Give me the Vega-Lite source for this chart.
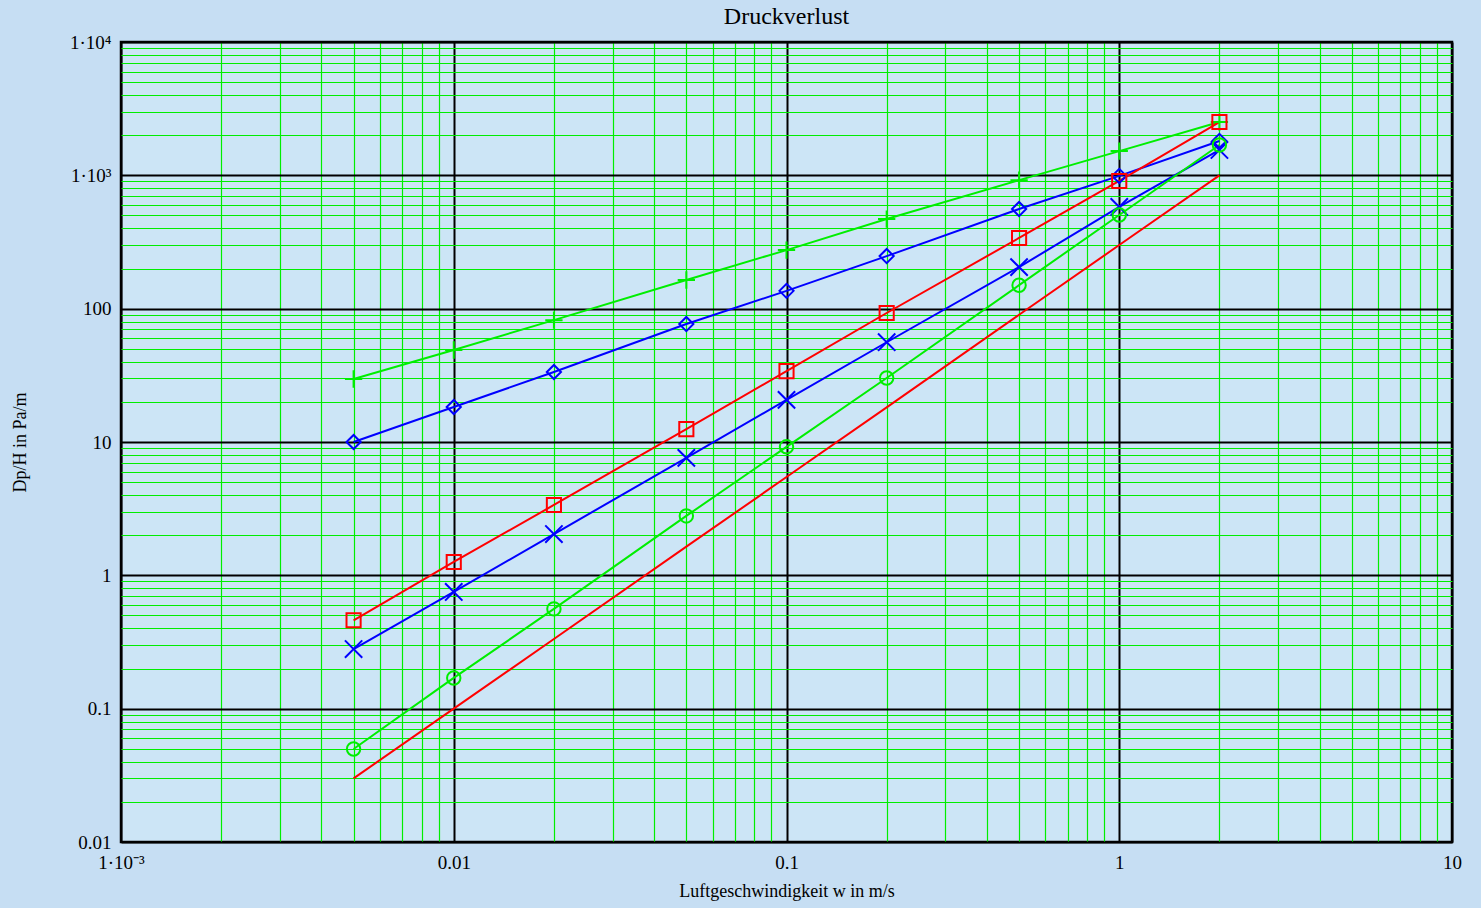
{
  "$schema": "https://vega.github.io/schema/vega-lite/v6.json",
  "width": 1331,
  "height": 800,
  "autosize": "none",
  "padding": {"left": 121, "top": 42, "right": 29, "bottom": 66},
  "background": "#c6def3",
  "config": {
    "view": {"stroke": "black", "strokeWidth": 2.5, "fill": "#cce5f6"},
    "font": "Liberation Serif"
  },
  "title": {
    "text": "Druckverlust",
    "font": "Liberation Serif",
    "fontSize": 24,
    "fontWeight": "normal",
    "color": "black",
    "offset": 4
  },
  "data": {
    "values": [
      {"w": 0.005, "dp": 29.7, "s": "a"},
      {"w": 0.01, "dp": 49, "s": "a"},
      {"w": 0.02, "dp": 82, "s": "a"},
      {"w": 0.05, "dp": 164, "s": "a"},
      {"w": 0.1, "dp": 275, "s": "a"},
      {"w": 0.2, "dp": 470, "s": "a"},
      {"w": 0.5, "dp": 920, "s": "a"},
      {"w": 1, "dp": 1520, "s": "a"},
      {"w": 2, "dp": 2510, "s": "a"},
      {"w": 0.005, "dp": 10, "s": "b"},
      {"w": 0.01, "dp": 18.3, "s": "b"},
      {"w": 0.02, "dp": 33.5, "s": "b"},
      {"w": 0.05, "dp": 76.7, "s": "b"},
      {"w": 0.1, "dp": 136, "s": "b"},
      {"w": 0.2, "dp": 248, "s": "b"},
      {"w": 0.5, "dp": 559, "s": "b"},
      {"w": 1, "dp": 990, "s": "b"},
      {"w": 2, "dp": 1810, "s": "b"},
      {"w": 0.005, "dp": 0.46, "s": "c"},
      {"w": 0.01, "dp": 1.26, "s": "c"},
      {"w": 0.02, "dp": 3.37, "s": "c"},
      {"w": 0.05, "dp": 12.5, "s": "c"},
      {"w": 0.1, "dp": 34, "s": "c"},
      {"w": 0.2, "dp": 92.8, "s": "c"},
      {"w": 0.5, "dp": 339, "s": "c"},
      {"w": 1, "dp": 907, "s": "c"},
      {"w": 2, "dp": 2510, "s": "c"},
      {"w": 0.005, "dp": 0.28, "s": "d"},
      {"w": 0.01, "dp": 0.75, "s": "d"},
      {"w": 0.02, "dp": 2.04, "s": "d"},
      {"w": 0.05, "dp": 7.6, "s": "d"},
      {"w": 0.1, "dp": 20.7, "s": "d"},
      {"w": 0.2, "dp": 56, "s": "d"},
      {"w": 0.5, "dp": 205, "s": "d"},
      {"w": 1, "dp": 579, "s": "d"},
      {"w": 2, "dp": 1549, "s": "d"},
      {"w": 0.005, "dp": 0.0498, "s": "e"},
      {"w": 0.01, "dp": 0.17, "s": "e"},
      {"w": 0.02, "dp": 0.56, "s": "e"},
      {"w": 0.05, "dp": 2.79, "s": "e"},
      {"w": 0.1, "dp": 9.2, "s": "e"},
      {"w": 0.2, "dp": 30.2, "s": "e"},
      {"w": 0.5, "dp": 150, "s": "e"},
      {"w": 1, "dp": 504, "s": "e"},
      {"w": 2, "dp": 1689, "s": "e"},
      {"w": 0.005, "dp": 0.03, "s": "f"},
      {"w": 0.01, "dp": 0.1, "s": "f"},
      {"w": 0.02, "dp": 0.333, "s": "f"},
      {"w": 0.05, "dp": 1.64, "s": "f"},
      {"w": 0.1, "dp": 5.46, "s": "f"},
      {"w": 0.2, "dp": 18.2, "s": "f"},
      {"w": 0.5, "dp": 90, "s": "f"},
      {"w": 1, "dp": 300, "s": "f"},
      {"w": 2, "dp": 1000, "s": "f"}
    ]
  },
  "encoding": {
    "x": {
      "field": "w",
      "type": "quantitative",
      "scale": {"type": "log", "domain": [0.001, 10], "nice": false},
      "axis": {
        "title": "Luftgeschwindigkeit w in m/s",
        "titleFont": "Liberation Serif",
        "titleFontSize": 18,
        "titleFontWeight": "normal",
        "titleColor": "black",
        "titlePadding": 10,
        "values": [0.001, 0.002, 0.003, 0.004, 0.005, 0.006, 0.007, 0.008, 0.009, 0.01, 0.02, 0.03, 0.04, 0.05, 0.06, 0.07, 0.08, 0.09, 0.1, 0.2, 0.3, 0.4, 0.5, 0.6, 0.7, 0.8, 0.9, 1, 2, 3, 4, 5, 6, 7, 8, 9, 10],
        "domain": false,
        "ticks": false,
        "grid": true,
        "gridColor": {"condition": {"test": "abs(log(datum.value)/LN10 - round(log(datum.value)/LN10)) < 0.000001", "value": "black"}, "value": "#00ee00"},
        "gridWidth": {"condition": {"test": "abs(log(datum.value)/LN10 - round(log(datum.value)/LN10)) < 0.000001", "value": 2}, "value": 1.2},
        "gridOpacity": 1,
        "labelExpr": "abs(datum.value - 0.001) < 0.0000001 ? '1·10⁻³' : (abs(log(datum.value)/LN10 - round(log(datum.value)/LN10)) < 0.000001 ? toString(datum.value) : '')",
        "labelFont": "Liberation Serif",
        "labelFontSize": 19,
        "labelColor": "black",
        "labelPadding": 11,
        "labelOverlap": false,
        "labelFlush": false,
        "labelBound": false
      }
    },
    "y": {
      "field": "dp",
      "type": "quantitative",
      "scale": {"type": "log", "domain": [0.01, 10000], "nice": false},
      "axis": {
        "title": "Dp/H in Pa/m",
        "titleFont": "Liberation Serif",
        "titleFontSize": 18,
        "titleFontWeight": "normal",
        "titleColor": "black",
        "titlePadding": 40,
        "values": [0.01, 0.02, 0.03, 0.04, 0.05, 0.06, 0.07, 0.08, 0.09, 0.1, 0.2, 0.3, 0.4, 0.5, 0.6, 0.7, 0.8, 0.9, 1, 2, 3, 4, 5, 6, 7, 8, 9, 10, 20, 30, 40, 50, 60, 70, 80, 90, 100, 200, 300, 400, 500, 600, 700, 800, 900, 1000, 2000, 3000, 4000, 5000, 6000, 7000, 8000, 9000, 10000],
        "domain": false,
        "ticks": false,
        "grid": true,
        "gridColor": {"condition": {"test": "abs(log(datum.value)/LN10 - round(log(datum.value)/LN10)) < 0.000001", "value": "black"}, "value": "#00ee00"},
        "gridWidth": {"condition": {"test": "abs(log(datum.value)/LN10 - round(log(datum.value)/LN10)) < 0.000001", "value": 2}, "value": 1.2},
        "gridOpacity": 1,
        "labelExpr": "abs(datum.value - 10000) < 0.001 ? '1·10⁴' : (abs(datum.value - 1000) < 0.001 ? '1·10³' : (abs(log(datum.value)/LN10 - round(log(datum.value)/LN10)) < 0.000001 ? toString(datum.value) : ''))",
        "labelFont": "Liberation Serif",
        "labelFontSize": 19,
        "labelColor": "black",
        "labelPadding": 10,
        "labelOverlap": false,
        "labelBound": false
      }
    },
    "color": {
      "field": "s",
      "type": "nominal",
      "scale": {"domain": ["a", "b", "c", "d", "e", "f"], "range": ["#00ee00", "#0000ff", "#ff0000", "#0000ff", "#00ee00", "#ff0000"]},
      "legend": null
    }
  },
  "layer": [
    {
      "mark": {"type": "line", "strokeWidth": 2, "clip": true}
    },
    {
      "transform": [{"filter": "datum.s != 'f'"}],
      "mark": {"type": "point", "filled": false, "strokeWidth": 2, "opacity": 1},
      "encoding": {
        "shape": {
          "field": "s",
          "type": "nominal",
          "scale": {"domain": ["a", "b", "c", "d", "e"], "range": ["M-1,0H1M0,-1V1", "diamond", "square", "M-1,-1L1,1M1,-1L-1,1", "circle"]},
          "legend": null
        },
        "size": {
          "field": "s",
          "type": "nominal",
          "scale": {"type": "ordinal", "domain": ["a", "b", "c", "d", "e"], "range": [300, 200, 200, 300, 180]},
          "legend": null
        }
      }
    }
  ]
}
